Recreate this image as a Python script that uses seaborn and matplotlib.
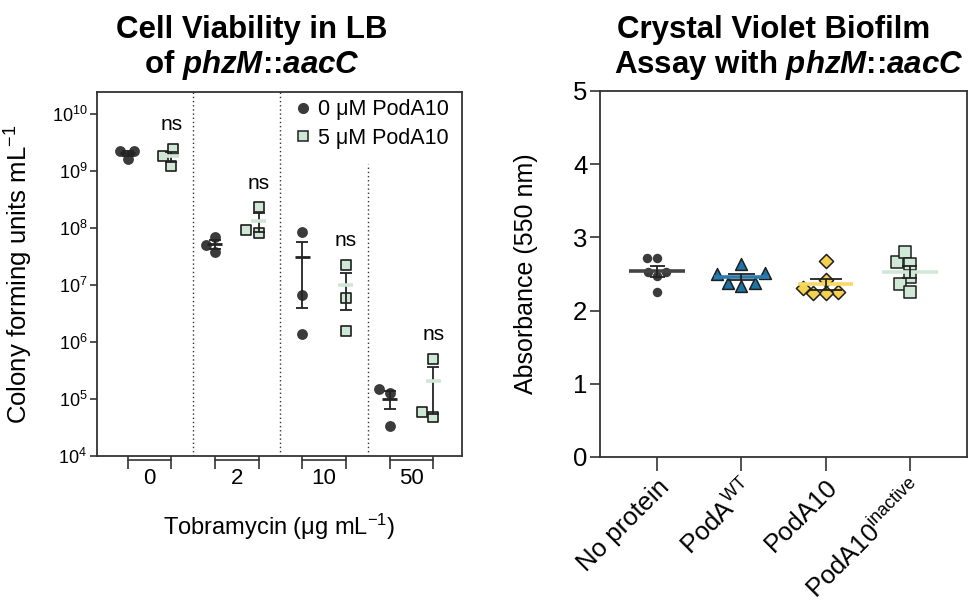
import numpy as np
import pandas as pd
import matplotlib
matplotlib.use("Agg")
import matplotlib.pyplot as plt
import matplotlib.transforms as mtransforms
from matplotlib.lines import Line2D
from matplotlib.ticker import NullLocator, LogLocator
import seaborn as sns

# ---------------- data ----------------
tobra_labels = ["0", "2", "10", "50"]
cfu_0uM = [[2.26e9, 2.2e9, 1.58e9],
           [3.75e7, 6.9e7, 5.0e7],
           [8.3e7, 6.6e6, 1.35e6],
           [1.47e5, 1.25e5, 3.3e4]]
cfu_5uM = [[1.19e9, 2.45e9, 1.78e9],
           [8.0e7, 2.3e8, 9.1e7],
           [2.24e7, 5.9e6, 1.58e6],
           [4.75e4, 5.1e5, 6.0e4]]
ns_labels = ["ns", "ns", "ns", "ns"]
legend_labels = ["0 \u03bcM PodA10", "5 \u03bcM PodA10"]

biofilm_groups = ["No protein", r"PodA$^{\mathrm{WT}}$", "PodA10", r"PodA10$^{\mathrm{inactive}}$"]
abs_no_protein = [2.72, 2.72, 2.53, 2.53, 2.47, 2.25]
abs_podA_wt = [2.51, 2.64, 2.50, 2.38, 2.34, 2.38]
abs_podA10 = [2.68, 2.42, 2.25, 2.24, 2.24, 2.31]
abs_podA10_inactive = [2.66, 2.80, 2.64, 2.46, 2.36, 2.25]

# ---------------- style ----------------
sns.set_style("ticks")
plt.rcParams["font.family"] = ["Liberation Sans", "DejaVu Sans"]
plt.rcParams["mathtext.fontset"] = "custom"
plt.rcParams["mathtext.rm"] = "Liberation Sans"
plt.rcParams["mathtext.it"] = "Liberation Sans:italic"
plt.rcParams["mathtext.bf"] = "Liberation Sans:bold"
plt.rcParams["mathtext.bfit"] = "Liberation Sans:bold:italic"
plt.rcParams["axes.linewidth"] = 1.3
plt.rcParams["axes.edgecolor"] = "#333333"
plt.rcParams["xtick.color"] = "#333333"
plt.rcParams["ytick.color"] = "#333333"
plt.rcParams["xtick.labelcolor"] = "black"
plt.rcParams["ytick.labelcolor"] = "black"
plt.rcParams["text.color"] = "black"
plt.rcParams["axes.labelcolor"] = "black"

W, H = 969, 607
fig = plt.figure(figsize=(W / 100, H / 100), dpi=100)

def axrect(l, t, r, b):
    return [l / W, 1 - b / H, (r - l) / W, (b - t) / H]

axL = fig.add_axes(axrect(97, 92, 462, 456))
axR = fig.add_axes(axrect(600, 91, 967, 457))

dark = "#3b3b3b"
green = "#cfe8d5"
edge = "#1e1e1e"

# ---------------- left panel ----------------
axL.set_yscale("log")
rows0 = [(i - 0.25, v) for i, vals in enumerate(cfu_0uM) for v in vals]
rows5 = [(i + 0.25, v) for i, vals in enumerate(cfu_5uM) for v in vals]
df0 = pd.DataFrame(rows0, columns=["pos", "cfu"])
df5 = pd.DataFrame(rows5, columns=["pos", "cfu"])

sns.swarmplot(data=df0, x="pos", y="cfu", native_scale=True, orient="x",
              color=dark, size=7.8, linewidth=0, ax=axL, zorder=3)
sns.swarmplot(data=df5, x="pos", y="cfu", native_scale=True, orient="x",
              color=green, marker="s", size=7.8, linewidth=1.2, edgecolor=edge,
              ax=axL, zorder=3)

for i in range(len(tobra_labels)):
    for vals, off, mcol, mlw in ((cfu_0uM[i], -0.25, "#222222", 2.0), (cfu_5uM[i], 0.25, green, 2.6)):
        v = np.asarray(vals)
        m = v.mean()
        sem = v.std(ddof=1) / np.sqrt(len(v))
        axL.errorbar(i + off, m, yerr=sem, color="#222222", lw=1.3, capsize=4.5,
                     capthick=1.3, zorder=4)
        axL.hlines(m, i + off - 0.085, i + off + 0.085, color=mcol, lw=mlw, zorder=5)
    top = max(cfu_5uM[i]) * 10 ** 0.42
    axL.text(i + 0.25, top, ns_labels[i], ha="center", va="center", fontsize=15)

axL.set_xlim(-0.6, 3.58)
axL.set_ylim(1e4, 2.4e10)
axL.yaxis.set_major_locator(LogLocator(base=10, numticks=10))
axL.yaxis.set_minor_locator(NullLocator())
axL.tick_params(axis="y", which="major", length=5, width=1.2, labelsize=13, pad=2)

# separators
axL.axvline(0.5, ls=(0, (1, 2)), color="#333333", lw=1.0)
axL.axvline(1.5, ls=(0, (1, 2)), color="#333333", lw=1.0)
axL.vlines(2.5, 1e4, 1.3e9, linestyles=[(0, (1, 2))], color="#333333", lw=1.0)

# bracket style x ticks
pair_pos = [p for i in range(len(tobra_labels)) for p in (i - 0.25, i + 0.25)]
axL.set_xticks(pair_pos)
axL.set_xticklabels([""] * len(pair_pos))
axL.tick_params(axis="x", which="major", length=9, width=1.2)
axL.set_xticks(range(len(tobra_labels)), minor=True)
axL.set_xticklabels(tobra_labels, minor=True)
axL.tick_params(axis="x", which="minor", length=0, pad=9, labelsize=16)
trans = axL.get_xaxis_transform() + mtransforms.ScaledTranslation(0, -4 / 100, fig.dpi_scale_trans)
for i in range(len(tobra_labels)):
    axL.plot([i - 0.25, i + 0.25], [0, 0], color="#333333", lw=1.2, transform=trans, clip_on=False)

axL.set_xlabel("")
axL.set_ylabel("Colony forming units mL$^{-1}$", fontsize=18.5)
axL.yaxis.set_label_coords(-0.17, 0.5)
axL.text(0.5, (456 - 527) / 364, "Tobramycin (\u03bcg mL$^{-1}$)", transform=axL.transAxes,
         ha="center", va="center", fontsize=17)

handles = [Line2D([], [], ls="none", marker="o", color=dark, markersize=7),
           Line2D([], [], ls="none", marker="s", markerfacecolor=green, markeredgecolor=edge,
                  markeredgewidth=1.1, markersize=7.5)]
axL.legend(handles, legend_labels, loc="upper right", bbox_to_anchor=(0.965, 0.98),
           frameon=False, fontsize=15.5, handlelength=0.8, handletextpad=0.3,
           labelspacing=0.35, borderpad=0, borderaxespad=0)

for s in axL.spines.values():
    s.set_visible(True)

# ---------------- right panel ----------------
abs_sets = [abs_no_protein, abs_podA_wt, abs_podA10, abs_podA10_inactive]
face_cols = [dark, "#1f74a6", "#f4d24e", "#d0e8d6"]
mean_cols = ["#444444", "#2a7cb0", "#f7d967", "#d0e8d6"]
markers = ["o", "^", "D", "s"]
sizes = [6.8, 8.5, 7.2, 8.0]
cap_half = [0.09, 0.16, 0.19, 0.09]

dfr = pd.DataFrame({"group": [g for g, vals in zip(biofilm_groups, abs_sets) for _ in vals],
                    "absorbance": [v for vals in abs_sets for v in vals]})
for k, g in enumerate(biofilm_groups):
    sub = dfr[dfr["group"] == g]
    lw = 0 if k == 0 else 1.1
    sns.swarmplot(data=sub, x="group", y="absorbance", order=biofilm_groups,
                  color=face_cols[k], marker=markers[k], size=sizes[k],
                  linewidth=lw, edgecolor=edge, ax=axR, zorder=3)

for k, vals in enumerate(abs_sets):
    v = np.asarray(vals)
    m = v.mean()
    sem = v.std(ddof=1) / np.sqrt(len(v))
    axR.vlines(k, m - sem, m + sem, color="#222222", lw=1.3, zorder=5)
    axR.hlines([m - sem, m + sem], k - cap_half[k], k + cap_half[k], color="#222222", lw=1.3, zorder=5)
    axR.hlines(m, k - 0.33, k + 0.33, color=mean_cols[k], lw=2.6, zorder=4)

axR.set_xlim(-0.68, 3.68)
axR.set_ylim(0, 5)
axR.set_yticks([0, 1, 2, 3, 4, 5])
axR.tick_params(axis="y", length=7, width=1.2, labelsize=18.5, pad=2)
axR.tick_params(axis="x", length=10, width=1.2, labelsize=18.5, pad=3)
axR.set_xticks(range(len(biofilm_groups)))
axR.set_xticklabels(biofilm_groups, rotation=45, ha="right", va="top", rotation_mode="anchor")
axR.set_xlabel("")
axR.set_ylabel("Absorbance (550 nm)", fontsize=18)
axR.yaxis.set_label_coords(-0.17, 0.5)
for s in axR.spines.values():
    s.set_visible(True)

# ---------------- titles ----------------
fig.text(252 / W, 1 - 30 / H, "Cell Viability in LB", ha="center", va="center",
         fontsize=22.5, weight="bold")
fig.text(252 / W, 1 - 65 / H, r"of $\mathbfit{phzM}$::$\mathbfit{aacC}$", ha="center", va="center",
         fontsize=22.5, weight="bold")
fig.text(774 / W, 1 - 30 / H, "Crystal Violet Biofilm", ha="center", va="center",
         fontsize=22.5, weight="bold")
fig.text(789 / W, 1 - 65 / H, r"Assay with $\mathbfit{phzM}$::$\mathbfit{aacC}$", ha="center", va="center",
         fontsize=22.5, weight="bold")

fig.savefig("out.png", dpi=100)
